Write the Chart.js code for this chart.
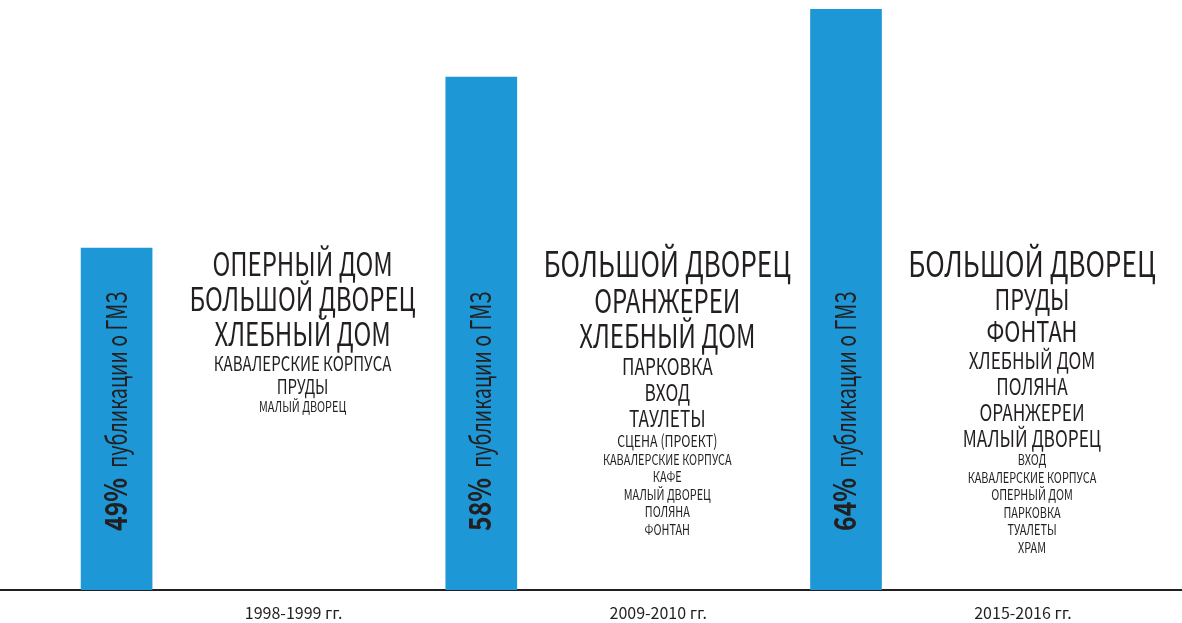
<!DOCTYPE html>
<html lang="ru">
<head>
<meta charset="utf-8">
<title>Публикации о ГМЗ</title>
<script src="https://cdn.jsdelivr.net/npm/chart.js@4.4.1/dist/chart.umd.min.js"></script>
<style>
  html, body { margin: 0; padding: 0; background: #fff; }
  #wrap { width: 1182px; height: 623px; }
</style>
</head>
<body>
<div id="wrap"><canvas id="gmzChart"></canvas></div>
<script>
const periods = ['1998-1999 гг.', '2009-2010 гг.', '2015-2016 гг.'];
const shares = [49, 58, 64]; // % публикаций о ГМЗ

// объекты, упоминаемые в публикациях; уровень 0 = чаще всего
const topics1998 = ['ОПЕРНЫЙ ДОМ', 'БОЛЬШОЙ ДВОРЕЦ', 'ХЛЕБНЫЙ ДОМ', 'КАВАЛЕРСКИЕ КОРПУСА', 'ПРУДЫ', 'МАЛЫЙ ДВОРЕЦ'];
const levels1998 = [1, 1, 1, 4, 4, 6];

const topics2009 = ['БОЛЬШОЙ ДВОРЕЦ', 'ОРАНЖЕРЕИ', 'ХЛЕБНЫЙ ДОМ', 'ПАРКОВКА', 'ВХОД', 'ТАУЛЕТЫ',
    'СЦЕНА (ПРОЕКТ)', 'КАВАЛЕРСКИЕ КОРПУСА', 'КАФЕ', 'МАЛЫЙ ДВОРЕЦ', 'ПОЛЯНА', 'ФОНТАН'];
const levels2009 = [0, 1, 1, 3, 3, 3, 5, 6, 6, 6, 6, 6];

const topics2015 = ['БОЛЬШОЙ ДВОРЕЦ', 'ПРУДЫ', 'ФОНТАН', 'ХЛЕБНЫЙ ДОМ', 'ПОЛЯНА', 'ОРАНЖЕРЕИ', 'МАЛЫЙ ДВОРЕЦ',
    'ВХОД', 'КАВАЛЕРСКИЕ КОРПУСА', 'ОПЕРНЫЙ ДОМ', 'ПАРКОВКА', 'ТУАЛЕТЫ', 'ХРАМ'];
const levels2015 = [0, 2, 2, 3, 3, 3, 3, 6, 6, 6, 6, 6, 6];

const NARROW = "'Noto Sans CJK SC', 'Noto Sans', sans-serif";
const INK = '#231f20';

// подписи внутри столбцов (повёрнуты на 90°)
const barCaptions = {
    id: 'barCaptions',
    afterDraw(chart) {
        const ctx = chart.ctx;
        const xScale = chart.scales.x;
        const base = chart.chartArea.bottom;
        shares.forEach((v, i) => {
            const x = xScale.getPixelForValue(i);
            const pct = v + '%';
            ctx.save();
            ctx.translate(x + 10, base - 59);
            ctx.rotate(-Math.PI / 2);
            ctx.fillStyle = INK;
            ctx.textAlign = 'left';
            ctx.textBaseline = 'alphabetic';
            ctx.save();
            ctx.scale(0.8, 1);
            ctx.font = `bold 31px ${NARROW}`;
            ctx.fillText(pct, 0, 0);
            const w = ctx.measureText(pct).width * 0.8;
            ctx.restore();
            ctx.scale(0.7, 1);
            ctx.font = `28px ${NARROW}`;
            ctx.fillText('публикации о ГМЗ', (w + 10) / 0.7, 0);
            ctx.restore();
        });
    }
};

// списки объектов справа от каждого столбца
const topicLists = {
    id: 'topicLists',
    afterDraw(chart, args, opts) {
        const ctx = chart.ctx;
        const xScale = chart.scales.x;
        const lists = [[topics1998, levels1998], [topics2009, levels2009], [topics2015, levels2015]];
        ctx.save();
        ctx.fillStyle = INK;
        ctx.textAlign = 'center';
        ctx.textBaseline = 'middle';
        lists.forEach(([names, levels], i) => {
            const x = xScale.getPixelForValue(i) + opts.offset;
            let y = opts.top;
            let prev = null;
            names.forEach((name, j) => {
                const size = opts.sizes[levels[j]];
                if (prev !== null) y += (prev + size) / 2 + 3;
                ctx.save();
                ctx.translate(x, y);
                ctx.scale(opts.squeeze, 1);
                ctx.font = `${size}px ${NARROW}`;
                ctx.fillText(name, 0, 0);
                ctx.restore();
                prev = size;
            });
        });
        ctx.restore();
    }
};

new Chart(document.getElementById('gmzChart'), {
    type: 'bar',
    data: {
        datasets: [{
            label: 'Публикации о ГМЗ, %',
            data: shares.map((v, i) => ({ x: i, y: v })),
            backgroundColor: '#1d97d5',
            barThickness: 71,
            clip: 0
        }]
    },
    options: {
        responsive: true,
        maintainAspectRatio: false,
        animation: false,
        layout: { padding: { top: 9, bottom: 2, left: 0, right: 0 } },
        scales: {
            x: {
                type: 'linear',
                offset: false,
                min: -0.3197,
                max: 2.9213,
                afterBuildTicks: scale => {
                    scale.ticks = periods.map((_, i) => ({ value: i }));
                },
                afterFit: scale => { scale.height = 31; },
                grid: { display: false, drawTicks: false },
                border: { display: true, color: INK, width: 2 },
                ticks: {
                    callback: v => periods[v],
                    labelOffset: 177,
                    padding: 15,
                    autoSkip: false,
                    maxRotation: 0,
                    color: INK,
                    font: { family: NARROW, size: 16, lineHeight: 1 }
                }
            },
            y: {
                display: false,
                min: 31,
                max: 61.58
            }
        },
        plugins: {
            legend: { display: false },
            tooltip: { enabled: false },
            topicLists: {
                offset: 186,
                top: 264,
                squeeze: 0.75,
                sizes: [35, 32, 29, 23, 20, 16.5, 14.5]
            }
        }
    },
    plugins: [barCaptions, topicLists]
});
</script>
</body>
</html>
